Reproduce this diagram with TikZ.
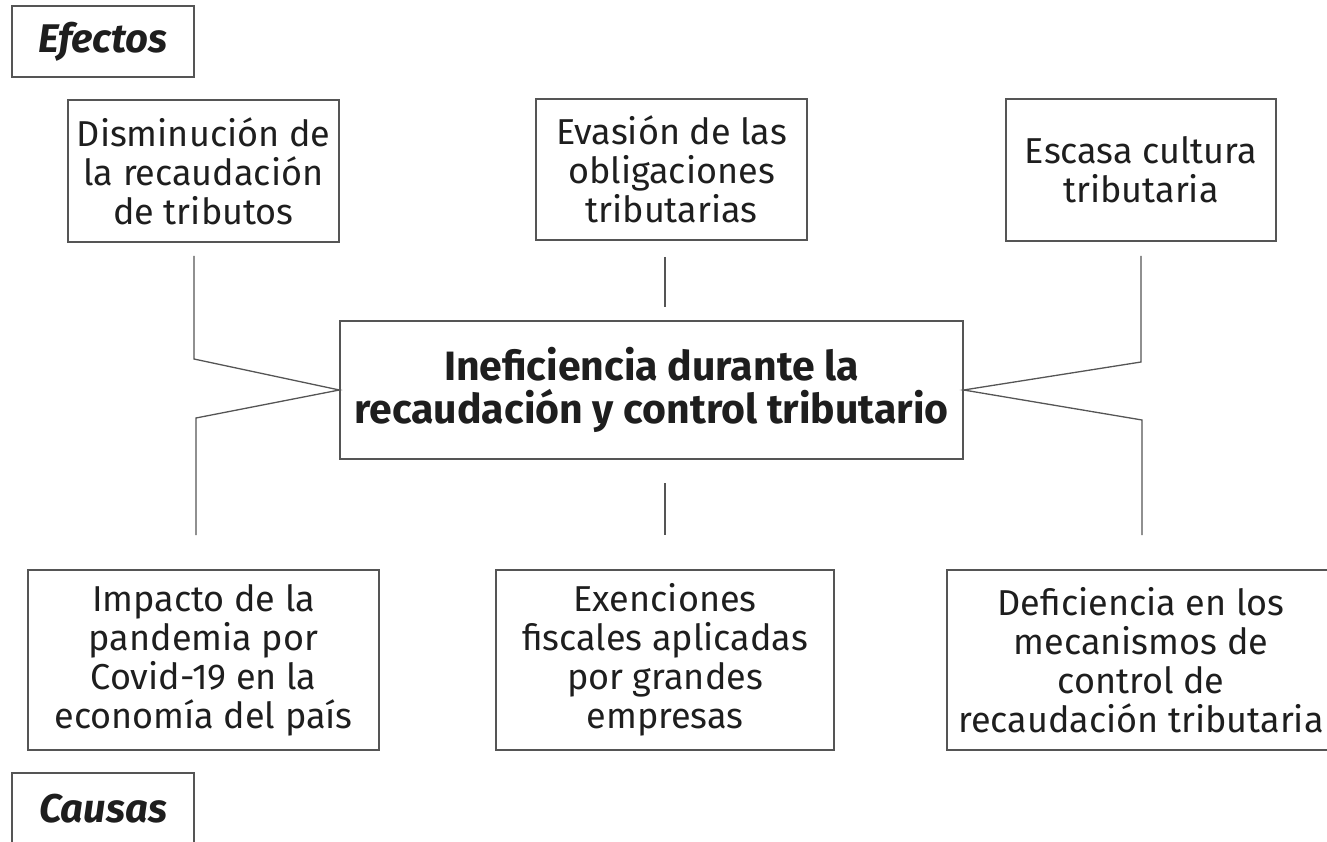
\documentclass[tikz,border=0pt]{standalone}
\usepackage{fontspec}
\setmainfont{Fira Sans}
\definecolor{linea}{HTML}{555555}
\definecolor{texto}{HTML}{1E1E1E}
\tikzset{caja/.style={draw=linea, line width=1.3pt, align=center, inner sep=0pt,
           text=texto, font=\fontsize{36}{39}\selectfont},
         titulo/.style={caja, font=\bfseries\itshape\fontsize{40}{44}\selectfont},
         central/.style={caja, font=\bfseries\fontsize{41}{43}\selectfont},
         rama/.style={draw=linea, line width=1.3pt}}

\begin{document}
\begin{tikzpicture}[x=1pt,y=-1pt]
  \useasboundingbox (0,0) rectangle (1327,842);
  \clip (0,0) rectangle (1327,842);
  % efectos
  \node[titulo, minimum width=182, minimum height=71] (efectos) at (103,41.5) {Efectos};
  \node[caja, minimum width=271, minimum height=142] (dis) at (203.5,171)
    {Disminución de\\la recaudación\\de tributos};
  \node[caja, minimum width=271, minimum height=141] (eva) at (671.5,169.5)
    {Evasión de las\\obligaciones\\tributarias};
  \node[caja, minimum width=270, minimum height=142] (esc) at (1141,170)
    {Escasa cultura\\tributaria};
  % problema central
  \node[central, minimum width=623, minimum height=138] (core) at (651.5,390)
    {Ineficiencia durante la\\recaudación y control tributario};
  % causas
  \node[caja, minimum width=351, minimum height=180] (imp) at (203.5,660)
    {Impacto de la\\pandemia por\\Covid-19 en la\\economía del país};
  \node[caja, minimum width=338, minimum height=180] (exe) at (665,660)
    {Exenciones\\fiscales aplicadas\\por grandes\\empresas};
  \node[caja, minimum width=388, minimum height=180] (def) at (1141,660)
    {Deficiencia en los\\mecanismos de\\control de\\recaudación tributaria};
  \node[titulo, minimum width=182, minimum height=71] (causas) at (103,808.5) {Causas};
  % ramas
  \coordinate (dis-pie) at (194,256);
  \coordinate (eva-pie) at (665,257);
  \coordinate (esc-pie) at (1141,256);
  \coordinate (imp-cab) at (196,535);
  \coordinate (exe-cab) at (665,535);
  \coordinate (def-cab) at (1142,535);
  \draw[rama] (dis-pie) -- (194,359) -- (core.west) -- (196,418) -- (imp-cab);
  \draw[rama] (esc-pie) -- (1141,362) -- (core.east) -- (1142,420) -- (def-cab);
  \draw[rama] (eva-pie) -- (665,307);
  \draw[rama] (665,483) -- (exe-cab);
\end{tikzpicture}
\end{document}
